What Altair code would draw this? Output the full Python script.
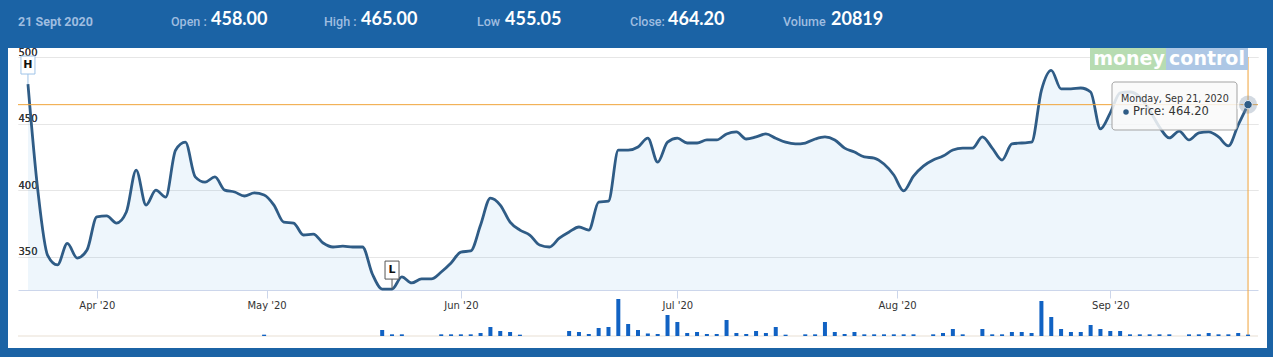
import json
import altair as alt
import pandas as pd

# ---------------- data ----------------
# one value per NSE trading day, 23 Mar 2020 ... 21 Sep 2020
PRICE = [479.7, 400.0, 351.0, 343.8, 360.0, 349.0, 355.0, 380.0, 380.6, 375.3,
         383.6, 415.0, 388.8, 400.0, 394.8, 430.0, 436.0, 410.0, 406.0, 410.0,
         400.0, 398.6, 395.6, 397.9, 396.4, 388.8, 376.0, 375.3, 366.3, 367.0,
         360.3, 357.3, 358.0, 357.3, 357.3, 337.0, 325.7, 325.7, 334.8, 330.3,
         333.3, 333.3, 338.5, 345.3, 353.5, 354.3, 373.8, 394.0, 388.8, 376.0,
         370.0, 366.3, 358.8, 357.3, 364.0, 368.6, 372.3, 370.0, 391.0, 391.8,
         430.0, 430.0, 432.4, 439.0, 421.0, 436.0, 439.0, 435.4, 435.4, 437.7,
         437.7, 442.2, 443.7, 438.4, 440.0, 442.2, 439.0, 436.0, 434.7, 435.4,
         438.4, 440.0, 437.7, 431.6, 428.6, 424.9, 424.1, 419.6, 411.4, 399.4,
         410.6, 418.1, 422.6, 425.6, 430.1, 431.6, 431.6, 440.0, 431.6, 422.6,
         434.7, 435.4, 436.0, 475.0, 490.0, 476.0, 476.0, 476.7, 473.7, 446.0,
         458.0, 473.0, 473.7, 470.0, 460.0, 447.4, 439.2, 444.4, 437.7, 443.0,
         443.7, 440.0, 433.2, 449.0, 464.2]

# volume in thousands of shares
VOLUME_K = [0, 0, 0, 0, 0, 0, 0, 0, 0, 0,
            0, 0, 0, 0, 0, 0, 0, 0, 0, 0,
            0, 0, 0, 0, 20, 0, 0, 0, 0, 0,
            0, 0, 0, 0, 0, 0, 90, 25, 25, 0,
            0, 0, 25, 25, 25, 25, 45, 135, 75, 60,
            20, 0, 0, 0, 0, 75, 60, 30, 120, 135,
            555, 180, 90, 38, 30, 315, 210, 45, 60, 30,
            30, 240, 45, 30, 75, 45, 135, 20, 0, 25,
            25, 210, 60, 30, 60, 25, 25, 25, 25, 25,
            25, 0, 25, 45, 105, 25, 0, 105, 25, 25,
            60, 60, 45, 525, 285, 105, 60, 60, 165, 105,
            75, 75, 25, 25, 25, 25, 25, 0, 25, 25,
            45, 25, 25, 45, 20.8]

MONTH_TICKS = [7, 24.25, 44, 66, 88.3333, 110]          # trading-day positions of month starts
MONTH_LABELS = ["Apr '20", "May '20", "Jun '20", "Jul '20", "Aug '20", "Sep '20"]
PRICE_TICKS = [350, 400, 450, 500]
PRICE_DOMAIN = [325, 500]
VOL_MAX_K = 555

FLAG_IDX = [0, 37]
FLAG_TXT = ["H", "L"]

HEADER_DATE = "21 Sept 2020"
HDR_LABELS = ["Open :", "High :", "Low", "Close:", "Volume"]
HDR_VALUES = ["458.00", "465.00", "455.05", "464.20", "20819"]
TIP_DATE = "Monday, Sep 21, 2020"

# ---------------- layout / style ----------------
W, H = 1240, 233
PAD = {"left": 18, "top": 57, "right": 15, "bottom": 67}
HDR_LABEL_X = [153, 306, 459, 612, 765]
HDR_VALUE_X = [193, 343, 487, 650, 813]
VOL_BASE, VOL_TOP = 279, 242

BLUE = "#1b63a5"
LINE = "#2f5c86"
ORANGE = "#f0a43a"
VOLC = "#1162c3"
AXIS_GREY = "#ccd6eb"
FONT = "DejaVu Sans"

n = len(PRICE)
assert len(VOLUME_K) == n
k = (W - 10) / (n - 1)
x_dom = [-5 / k, (n - 1) + 5 / k]

df = pd.DataFrame({"i": list(range(n)), "price": PRICE, "vol": VOLUME_K})
last = df.iloc[[-1]].reset_index(drop=True)
flags = pd.DataFrame({"i": FLAG_IDX, "price": [PRICE[j] for j in FLAG_IDX], "label": FLAG_TXT})
one = pd.DataFrame({"a": [0]})

label_expr = f"{json.dumps(MONTH_LABELS)}[indexof({json.dumps(MONTH_TICKS)}, datum.value)]"

x_axis = alt.Axis(values=MONTH_TICKS, labelExpr=label_expr, grid=False, tickSize=8,
                  tickColor=AXIS_GREY, domainColor=AXIS_GREY, labelPadding=2,
                  labelFont=FONT, labelFontSize=10, labelColor="#333", labelFlush=False,
                  title=None)
y_axis = alt.Axis(values=PRICE_TICKS, orient="left", grid=True, gridColor="#e6e6e6",
                  domain=False, ticks=False, tickSize=0, labelAlign="left",
                  labelBaseline="alphabetic", labelPadding=0, labelOffset=-2,
                  labelFont=FONT, labelFontSize=10, labelColor="#333", labelFlush=False,
                  title=None)

x_i = alt.X("i:Q", scale=alt.Scale(domain=x_dom, nice=False, zero=False), axis=x_axis)
y_price = alt.Y("price:Q", scale=alt.Scale(domain=PRICE_DOMAIN, nice=False, zero=False), axis=y_axis)


def rect(x, x2, y, y2, **style):
    return alt.Chart(one).mark_rect(**style).encode(
        x=alt.value(x), x2=alt.value(x2), y=alt.value(y), y2=alt.value(y2))


def text(t, x, y, **style):
    return alt.Chart(one).mark_text(**style).encode(
        x=alt.value(x), y=alt.value(y), text=alt.value(t))


# frame (blue border + header band)
frame = [
    rect(-18, 1255, -57, -9, color=BLUE),
    rect(-18, -10, -9, 300, color=BLUE),
    rect(1249, 1255, -9, 300, color=BLUE),
    rect(-18, 1255, 291, 300, color=BLUE),
]

header = [text(HEADER_DATE, 0, -31, font="Roboto", fontSize=12.5, fontWeight="bold",
               color="#9fbde0", align="left", baseline="alphabetic")]
for lab, lx, val, vx in zip(HDR_LABELS, HDR_LABEL_X, HDR_VALUES, HDR_VALUE_X):
    header.append(text(lab, lx, -31, font="Roboto", fontSize=12.5, fontWeight=500,
                       color="#9fbde0", align="left", baseline="alphabetic"))
    header.append(text(val, vx, -32, font="Lato", fontSize=18, fontWeight="bold",
                       color="white", align="left", baseline="alphabetic"))

# price group
base = alt.Chart(df)
area = base.mark_area(interpolate="monotone", color="#2b8fda", opacity=0.08).encode(
    x=x_i, y=y_price, y2=alt.datum(PRICE_DOMAIN[0]))
line = base.mark_line(interpolate="monotone", color=LINE, strokeWidth=2.8).encode(x=x_i, y=y_price)
hrule = alt.Chart(last).mark_rule(color=ORANGE, strokeWidth=1).encode(
    x=alt.value(0), x2=alt.value(W), y=y_price)
vrule = alt.Chart(last).mark_rule(color=ORANGE, strokeWidth=1).encode(
    x=x_i, y=alt.value(0), y2=alt.value(VOL_BASE))

flag_col = alt.condition(alt.datum.label == "H", alt.value("#9ec3e8"), alt.value("#555555"))
stem = alt.Chart(flags).mark_rule(yOffset=-10, strokeWidth=1).encode(
    x=x_i, y=y_price, y2=alt.Y2("price:Q"), color=flag_col)
box = alt.Chart(flags).mark_rect(fill="white", xOffset=-7, x2Offset=7, yOffset=-28,
                                 y2Offset=-10, strokeWidth=1).encode(
    x=x_i, x2=alt.X2("i:Q"), y=y_price, y2=alt.Y2("price:Q"), stroke=flag_col)
ftxt = alt.Chart(flags).mark_text(dy=-19, font=FONT, fontWeight="bold", fontSize=11,
                                  color="#111").encode(x=x_i, y=y_price, text="label:N")
halo = alt.Chart(last).mark_circle(size=330, color="#7d93aa", opacity=0.35).encode(x=x_i, y=y_price)
marker = alt.Chart(last).mark_circle(size=70, color=LINE, opacity=1, stroke="#dfe6ee",
                                     strokeWidth=1).encode(x=x_i, y=y_price)

price_group = alt.layer(area, line, hrule, vrule, stem, box, ftxt)

# volume group
sep = alt.Chart(one).mark_rule(color="#e8dfd3", strokeWidth=1).encode(
    x=alt.value(0), x2=alt.value(W), y=alt.value(VOL_BASE))
bars = alt.Chart(df).transform_filter("datum.vol > 0").mark_bar(width=4, color=VOLC).encode(
    x=x_i,
    y=alt.Y("vol:Q", scale=alt.Scale(domain=[0, VOL_MAX_K], range=[VOL_BASE, VOL_TOP], nice=False),
            axis=None))
vol_group = alt.layer(sep, bars)

# moneycontrol watermark
logo = [
    rect(1072, 1148, -9, 13, color="#b7dcb2"),
    rect(1148, 1230, -9, 13, color="#adc7e5"),
    text("money", 1111, 2, font=FONT, fontSize=19, fontWeight="bold", color="white",
         align="center", baseline="middle"),
    text("control", 1189, 2, font=FONT, fontSize=19, fontWeight="bold", color="white",
         align="center", baseline="middle"),
]

# tooltip
tip_price = f"Price: {PRICE[-1]:.2f}"
tooltip = [
    rect(1094, 1219, 25, 73, fill="#f9f9f9", fillOpacity=0.85, stroke="#a3a3a3",
         strokeWidth=1, cornerRadius=3),
    alt.Chart(one).mark_point(shape="triangle-right", size=40, filled=True, color="#f9f9f9",
                              opacity=0.9).encode(x=alt.value(1222), y=alt.value(49)),
    text(TIP_DATE, 1103, 42, font=FONT, fontSize=9.6, color="#333", align="left", baseline="middle"),
    alt.Chart(one).mark_circle(size=30, color=LINE, opacity=1).encode(
        x=alt.value(1108), y=alt.value(55)),
    text(tip_price, 1115, 55, font=FONT, fontSize=11.5, color="#333", align="left", baseline="middle"),
]

chart = alt.layer(
    *frame, *header, price_group, vol_group, *logo, *tooltip,
    alt.layer(halo, marker),
).resolve_scale(y="independent").properties(
    width=W, height=H, padding=PAD, autosize=alt.AutoSizeParams(type="none"),
    background="white",
).configure_view(stroke=None)

chart.save("out.html", embed_options={"renderer": "svg", "actions": False})
